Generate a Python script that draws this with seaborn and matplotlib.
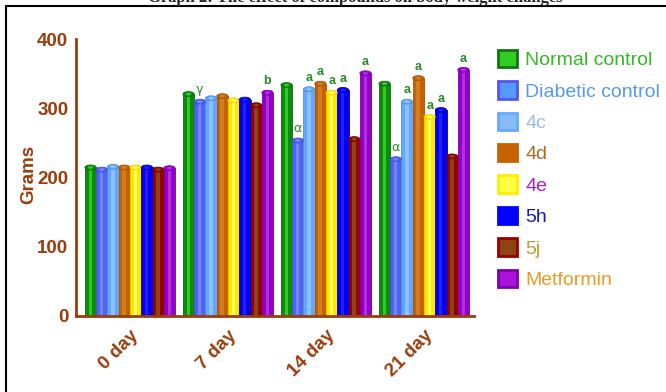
import matplotlib
matplotlib.use("Agg")
import matplotlib.pyplot as plt
import pandas as pd
import seaborn as sns
from matplotlib.patches import Ellipse, Rectangle, Patch
from matplotlib.lines import Line2D

# ---- data -------------------------------------------------------------
days = ["0 day", "7 day", "14 day", "21 day"]
groups = ["Normal control", "Diabetic control", "4c", "4d", "4e", "5h", "5j", "Metformin"]

normal_control = [218, 324, 337, 339]
diabetic_control = [215, 313, 257, 230]
cmp_4c = [219, 318, 331, 313]
cmp_4d = [218, 321, 339, 347]
cmp_4e = [218, 315, 326, 291]
cmp_5h = [218, 316, 330, 301]
cmp_5j = [215, 308, 259, 234]
metformin = [217, 326, 354, 359]

# significance letters above each bar
sig_normal = ["", "", "", ""]
sig_diabetic = ["", "γ", "α", "α"]
sig_4c = ["", "", "a", "a"]
sig_4d = ["", "", "a", "a"]
sig_4e = ["", "", "a", "a"]
sig_5h = ["", "", "a", "a"]
sig_5j = ["", "", "", ""]
sig_metformin = ["", "b", "a", "a"]

series = [normal_control, diabetic_control, cmp_4c, cmp_4d, cmp_4e, cmp_5h, cmp_5j, metformin]
sig = [sig_normal, sig_diabetic, sig_4c, sig_4d, sig_4e, sig_5h, sig_5j, sig_metformin]

df = pd.DataFrame(
    [(d, g, v) for g, vals in zip(groups, series) for d, v in zip(days, vals)],
    columns=["day", "group", "grams"],
)

# ---- styling ----------------------------------------------------------
bar_main = ["#0e8a0e", "#5162ee", "#63a6ff", "#c46200", "#ffe800", "#0000ee", "#960000", "#9400c8"]
bar_light = ["#2ccc22", "#6b86ff", "#8cc2ff", "#d47c22", "#ffff60", "#2020ff", "#8b4513", "#b030e0"]
bar_dark = ["#0a6a0a", "#4050d8", "#4f90e8", "#a85200", "#f0d000", "#0000c0", "#7a0000", "#7a00a8"]

leg_face = ["#33cc22", "#5599ff", "#88bbf5", "#c46200", "#ffff44", "#0000ff", "#8b4513", "#aa11dd"]
leg_edge = ["#117711", "#5555ee", "#66aaff", "#c46200", "#ffee00", "#0000ff", "#990000", "#7a00aa"]
leg_text = ["#33bb22", "#5599ee", "#99bbee", "#b06a20", "#aa22cc", "#1a1aaa", "#c09a30", "#ee9922"]

brown = "#9a3d0a"
sig_color = "#2a8a2a"

sns.set_style("white")
plt.rcParams["font.family"] = ["Liberation Sans", "DejaVu Sans"]

fig = plt.figure(figsize=(6.66, 3.92), dpi=100)
W, H = 666, 392
ax = fig.add_axes([76 / W, 1 - 316 / H, (474 - 76) / W, (316 - 39) / H])

sns.barplot(
    data=df, x="day", y="grams", hue="group", order=days, hue_order=groups,
    palette=bar_main, saturation=1, width=0.92, dodge=True, legend=False,
    errorbar=None, linewidth=0, ax=ax,
)

# cylinder look: lighter centre stripe and a rounded top on every bar
cap = 3.5
for i, cont in enumerate(ax.containers):
    for j, bar in enumerate(cont):
        x0, w, h = bar.get_x(), bar.get_width(), bar.get_height()
        bar.set_height(h - cap)
        bar.set_edgecolor(bar_dark[i])
        bar.set_linewidth(0.6)
        ax.add_patch(Rectangle((x0 + w * 0.33, 0), w * 0.3, h - cap,
                               facecolor=bar_light[i], edgecolor="none", zorder=bar.get_zorder() + 0.1))
        ax.add_patch(Ellipse((x0 + w / 2, h - cap), w, 2 * cap,
                             facecolor=bar_main[i], edgecolor=bar_dark[i], linewidth=0.6,
                             zorder=bar.get_zorder() + 0.2))
        ax.add_patch(Ellipse((x0 + w / 2, h - cap), w * 0.45, cap * 1.2,
                             facecolor=bar_light[i], edgecolor="none",
                             zorder=bar.get_zorder() + 0.3))
        if sig[i][j]:
            greek = sig[i][j] in ("α", "γ")
            ax.annotate(sig[i][j], (x0 + w / 2, h), xytext=(0, 2), textcoords="offset points",
                        ha="center", va="bottom", color=sig_color,
                        fontsize=9, fontweight="normal" if greek else "bold",
                        family=["DejaVu Sans"] if greek else ["Liberation Sans"])

ax.set_ylim(0, 400)
ax.set_xlim(-0.551, 3.51)
ax.set_yticks([0, 100, 200, 300, 400])
ax.set_xticks(range(len(days)))
ax.set_xticklabels(days, rotation=45, ha="right", rotation_mode="anchor")
ax.set_xlabel("")
ax.set_ylabel("Grams", color=brown, fontsize=13.5, fontweight="bold")
ax.yaxis.set_label_coords(-0.098, 0.51)

for s in ["top", "right"]:
    ax.spines[s].set_visible(False)
for s in ["left", "bottom"]:
    ax.spines[s].set_color(brown)
    ax.spines[s].set_linewidth(2)
ax.tick_params(axis="both", direction="out", length=5, width=2, color=brown,
               labelcolor=brown, labelsize=13.5, pad=0.5)
ax.tick_params(axis="x", pad=3)
for lab in ax.get_xticklabels() + ax.get_yticklabels():
    lab.set_fontweight("bold")

# legend on the right
handles = [Patch(facecolor=f, edgecolor=e, linewidth=2) for f, e in zip(leg_face, leg_edge)]
fig.legend(handles, groups, loc="upper left", bbox_to_anchor=(490 / W, 1 - 42 / H),
           frameon=False, fontsize=14, labelcolor=leg_text, handlelength=1.0,
           handleheight=1.0, handletextpad=0.4, labelspacing=0.62, borderaxespad=0)

# page frame and caption along the top edge
fig.add_artist(Line2D([6 / W, 1], [1 - 6 / H, 1 - 6 / H], color="black", lw=1.5))
fig.add_artist(Line2D([6 / W, 6 / W], [0, 1 - 6 / H], color="black", lw=1.5))
fig.text(355 / W, 1 - 2 / H, "Graph 2: The effect of compounds on body weight changes",
         ha="center", va="baseline", fontsize=12, fontweight="bold",
         family=["Liberation Serif", "DejaVu Serif"])

fig.savefig("out.png", dpi=100, facecolor="white")
